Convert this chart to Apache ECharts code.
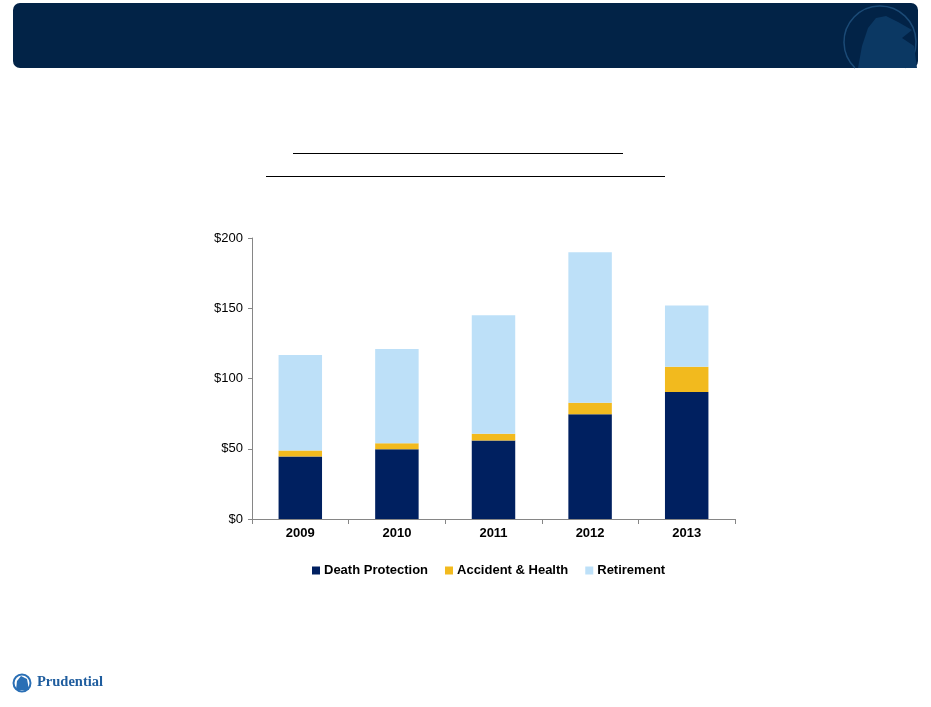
<!DOCTYPE html>
<html>
<head>
<meta charset="utf-8">
<script src="https://cdn.jsdelivr.net/npm/echarts@6/dist/echarts.min.js"></script>
<style>
  html, body { margin: 0; padding: 0; background: #fff; }
  #main { width: 931px; height: 707px; }
</style>
</head>
<body>
<div id="main"></div>
<script>
// values ($ millions)
var years = ['2009', '2010', '2011', '2012', '2013'];
var deathProtection = [44.5, 49.7, 55.8, 74.6, 90.4];
var accidentHealth = [4.2, 4.3, 4.8, 8.2, 18.0];
var retirement = [68.0, 67.0, 84.5, 107.1, 43.6];
var yTicks = [0, 50, 100, 150, 200];

var navy = '#002060';
var gold = '#F2BA1E';
var sky = '#BDE0F8';

function bar(name, data, color) {
  return {
    name: name,
    type: 'bar',
    stack: 'total',
    barWidth: '45%',
    data: data,
    itemStyle: { color: color },
    emphasis: { disabled: true }
  };
}

var option = {
  animation: false,
  textStyle: { fontFamily: 'Arial, "Liberation Sans", sans-serif' },
  grid: { left: 252, right: 196, top: 238, height: 281 },
  xAxis: {
    type: 'category',
    data: years,
    axisLine: { lineStyle: { color: '#868686' } },
    axisTick: { show: true, length: 5, lineStyle: { color: '#868686' } },
    axisLabel: { color: '#000', fontWeight: 'bold', fontSize: 13, margin: 8 }
  },
  yAxis: {
    type: 'value',
    min: yTicks[0],
    max: yTicks[yTicks.length - 1],
    interval: 50,
    splitLine: { show: false },
    axisLine: { show: true, lineStyle: { color: '#868686' } },
    axisTick: { show: true, length: 4, lineStyle: { color: '#868686' } },
    axisLabel: {
      color: '#000', fontSize: 13, margin: 9,
      formatter: function (v) { return '$' + v; }
    }
  },
  legend: {
    left: 307,
    top: 559,
    itemWidth: 8,
    itemHeight: 8,
    itemGap: 17,
    icon: 'rect',
    textStyle: { color: '#000', fontWeight: 'bold', fontSize: 13, padding: [0, 0, 0, -1] },
    data: ['Death Protection', 'Accident & Health', 'Retirement']
  },
  series: [
    bar('Death Protection', deathProtection, navy),
    bar('Accident & Health', accidentHealth, gold),
    bar('Retirement', retirement, sky)
  ],
  graphic: [
    // header band
    {
      type: 'rect', z: -1,
      shape: { x: 13, y: 3, width: 905, height: 65, r: 7 },
      style: { fill: '#022347' }
    },
    // faint emblem in the header, kept inside the band
    {
      type: 'arc',
      shape: { cx: 880, cy: 42, r: 36, startAngle: 2.34, endAngle: 0.80 + Math.PI * 2 },
      style: { fill: 'none', stroke: '#1b4a76', lineWidth: 1.5 }
    },
    {
      type: 'polygon',
      shape: { points: [[858, 68], [862, 46], [868, 28], [876, 18], [886, 16], [898, 22], [912, 30], [902, 38], [914, 46], [917, 68]] },
      style: { fill: '#0b3863' }
    },
    // empty underlined title lines
    {
      type: 'line',
      shape: { x1: 293, y1: 153.5, x2: 623, y2: 153.5 },
      style: { stroke: '#000', lineWidth: 1 }
    },
    {
      type: 'line',
      shape: { x1: 266, y1: 176.5, x2: 665, y2: 176.5 },
      style: { stroke: '#000', lineWidth: 1 }
    },
    // footer logo
    {
      type: 'circle',
      shape: { cx: 22, cy: 683, r: 8.5 },
      style: { fill: '#fff', stroke: '#2a6fb5', lineWidth: 2 }
    },
    {
      type: 'polygon',
      shape: { points: [[16, 690], [17, 681], [21, 676], [27, 679], [29, 690]] },
      style: { fill: '#2a6fb5' }
    },
    {
      type: 'text',
      left: 37, top: 675,
      style: {
        text: 'Prudential',
        fill: '#1f5d9e',
        font: 'bold 14.5px "Liberation Serif", "DejaVu Serif", serif'
      }
    }
  ]
};

var myChart = echarts.init(document.getElementById('main'));
myChart.setOption(option);
</script>
</body>
</html>
